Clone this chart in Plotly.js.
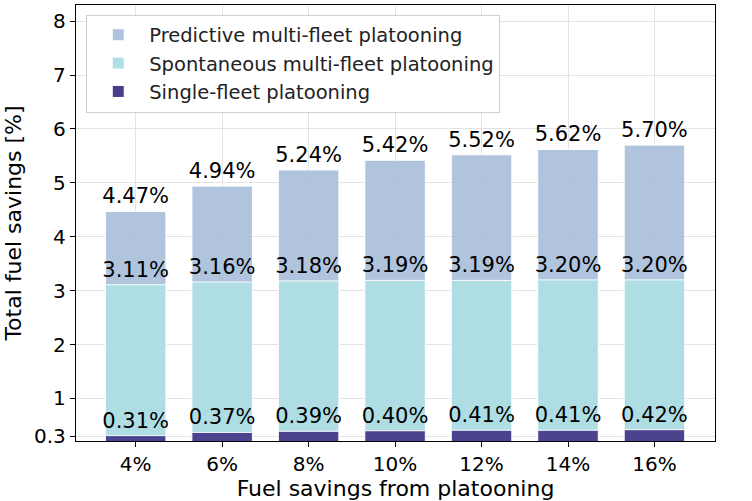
<!DOCTYPE html>
<html>
<head>
<meta charset="utf-8">
<script src="https://cdn.plot.ly/plotly-3.0.1.min.js"></script>
<style>
  body { margin: 0; background: #fff; }
  #chart { width: 752px; height: 501px; }
</style>
</head>
<body>
<div id="chart"></div>
<script>
const categories = ["4%", "6%", "8%", "10%", "12%", "14%", "16%"];
const predictive = [4.47, 4.94, 5.24, 5.42, 5.52, 5.62, 5.70];
const spontaneous = [3.11, 3.16, 3.18, 3.19, 3.19, 3.20, 3.20];
const singleFleet = [0.31, 0.37, 0.39, 0.40, 0.41, 0.41, 0.42];
const yTicks = [0.3, 1, 2, 3, 4, 5, 6, 7, 8];

const font = "DejaVu Sans, sans-serif";

function barTrace(name, values, color) {
  return {
    type: "bar",
    name: name,
    x: categories,
    y: values,
    width: 0.7,
    text: values.map(v => v.toFixed(2) + "%"),
    textposition: "outside",
    constraintext: "none",
    cliponaxis: false,
    textfont: { family: font, size: 21, color: "#000" },
    marker: { color: color, opacity: 0.96, line: { color: "#fff", width: 1 } },
    hoverinfo: "skip"
  };
}

const data = [
  barTrace("Predictive multi-fleet platooning", predictive, "#aec2dd"),
  barTrace("Spontaneous multi-fleet platooning", spontaneous, "#afdfe5"),
  barTrace("Single-fleet platooning", singleFleet, "#483d8b")
];

const layout = {
  width: 752,
  height: 501,
  barmode: "overlay",
  paper_bgcolor: "#fff",
  plot_bgcolor: "#fff",
  margin: { l: 76, r: 37, t: 5, b: 60 },
  font: { family: font, size: 20, color: "#000" },
  showlegend: true,
  legend: {
    x: 0.016, y: 0.978, xanchor: "left", yanchor: "top",
    bgcolor: "rgba(255,255,255,0.9)",
    bordercolor: "#d0d0d0", borderwidth: 1,
    font: { family: font, size: 19.5, color: "#222" },
    traceorder: "normal",
    itemwidth: 52
  },
  xaxis: {
    type: "category",
    range: [-0.69, 6.70],
    showline: true, linecolor: "#000", linewidth: 1.2, mirror: true,
    ticks: "outside", ticklen: 5, tickcolor: "#000",
    showgrid: true, gridcolor: "#e3e3e3", gridwidth: 1,
    tickfont: { family: font, size: 20 },
    title: { text: "Fuel savings from platooning", font: { family: font, size: 22 }, standoff: 3 }
  },
  yaxis: {
    range: [0.21, 8.3],
    tickvals: yTicks,
    ticktext: yTicks.map(String),
    showline: true, linecolor: "#000", linewidth: 1.2, mirror: true,
    ticks: "outside", ticklen: 5, tickcolor: "#000",
    showgrid: true, gridcolor: "#e3e3e3", gridwidth: 1,
    zeroline: false,
    tickfont: { family: font, size: 20 },
    title: { text: "Total fuel savings [%]", font: { family: font, size: 22 }, standoff: 6 }
  }
};

Plotly.newPlot("chart", data, layout, { displayModeBar: false, staticPlot: true });
</script>
</body>
</html>
